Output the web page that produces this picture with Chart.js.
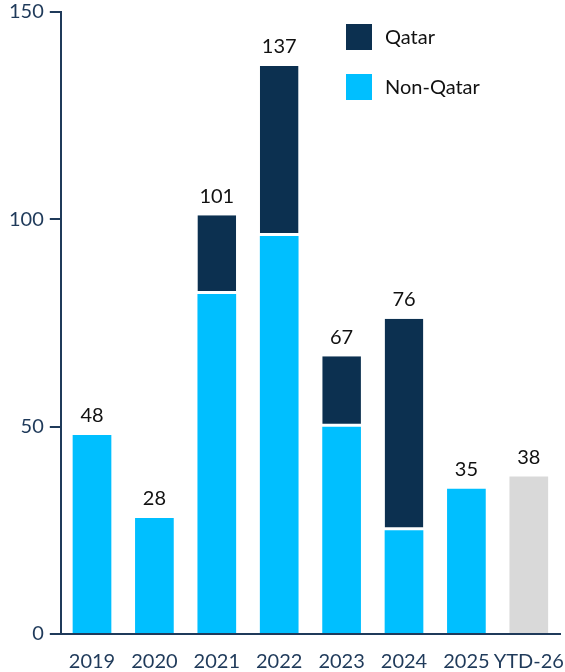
<!DOCTYPE html>
<html>
<head>
<meta charset="utf-8">
<script src="https://cdn.jsdelivr.net/npm/chart.js@4/dist/chart.umd.min.js"></script>
<style>
  html, body { margin: 0; padding: 0; background: #fff; }
  #wrap { width: 565px; height: 672px; position: relative; }
</style>
</head>
<body>
<div id="wrap"><canvas id="chart"></canvas></div>
<script>
const categories = ["2019", "2020", "2021", "2022", "2023", "2024", "2025", "YTD-26"];
const nonQatar = [48, 28, 82, 96, 50, 25, 35, 38];
const qatar = [0, 0, 19, 41, 17, 51, 0, 0];
const yTicks = [0, 50, 100, 150];

const axisColor = "#1f3a5a";
const navy = "#0c3050";
const sky = "#00bfff";
const grey = "#d9d9d9";
const fontFamily = "Lato, 'Open Sans', sans-serif";

const nonQatarColors = categories.map(c => c.startsWith("YTD") ? grey : sky);

// totals above each stack
const totalsPlugin = {
  id: "totals",
  afterDatasetsDraw(chart) {
    const ctx = chart.ctx;
    const y = chart.scales.y;
    const x = chart.scales.x;
    ctx.save();
    ctx.font = "20px " + fontFamily;
    ctx.fillStyle = "#111";
    ctx.textAlign = "center";
    ctx.textBaseline = "bottom";
    categories.forEach((c, i) => {
      const total = nonQatar[i] + qatar[i];
      ctx.fillText(String(total), x.getPixelForValue(i), y.getPixelForValue(total) - 9);
    });
    ctx.restore();
  }
};

// legend in upper right of plot
const legendPlugin = {
  id: "boxLegend",
  afterDraw(chart) {
    const ctx = chart.ctx;
    const items = [
      { label: "Qatar", color: navy },
      { label: "Non-Qatar", color: sky }
    ];
    ctx.save();
    ctx.font = "20px " + fontFamily;
    ctx.textBaseline = "middle";
    items.forEach((it, i) => {
      const top = 24 + i * 50;
      ctx.fillStyle = it.color;
      ctx.fillRect(346, top, 26, 26);
      ctx.fillStyle = "#111";
      ctx.fillText(it.label, 385, top + 14);
    });
    ctx.restore();
  }
};

new Chart(document.getElementById("chart"), {
  type: "bar",
  data: {
    labels: categories,
    datasets: [
      {
        label: "Non-Qatar",
        data: nonQatar,
        backgroundColor: nonQatarColors,
        borderColor: "#fff",
        borderWidth: 0,
        stack: "s"
      },
      {
        label: "Qatar",
        data: qatar,
        backgroundColor: navy,
        borderColor: "#fff",
        borderWidth: { bottom: 3, top: 0, left: 0, right: 0 },
        borderSkipped: false,
        stack: "s"
      }
    ]
  },
  options: {
    responsive: true,
    maintainAspectRatio: false,
    animation: false,
    layout: { padding: { top: 12, right: 5, left: 3, bottom: -18 } },
    datasets: { bar: { barPercentage: 0.62, categoryPercentage: 1 } },
    scales: {
      x: {
        stacked: true,
        afterFit(scale) { scale.paddingLeft = 0; scale.paddingRight = 0; },
        grid: { display: false, drawTicks: false },
        border: { color: axisColor, width: 2 },
        ticks: { color: axisColor, font: { family: fontFamily, size: 20 }, padding: 16, maxRotation: 0, autoSkip: false }
      },
      y: {
        stacked: true,
        min: 0,
        max: 150,
        afterBuildTicks(axis) { axis.ticks = yTicks.map(v => ({ value: v })); },
        afterFit(scale) { scale.paddingTop = 0; scale.paddingBottom = 0; },
        grid: { drawOnChartArea: false, drawTicks: true, tickLength: 11, color: axisColor, lineWidth: 2 },
        border: { color: axisColor, width: 2 },
        ticks: { color: axisColor, font: { family: fontFamily, size: 20 }, padding: 6 }
      }
    },
    plugins: {
      legend: { display: false },
      tooltip: { enabled: false }
    }
  },
  plugins: [totalsPlugin, legendPlugin]
});
</script>
</body>
</html>
